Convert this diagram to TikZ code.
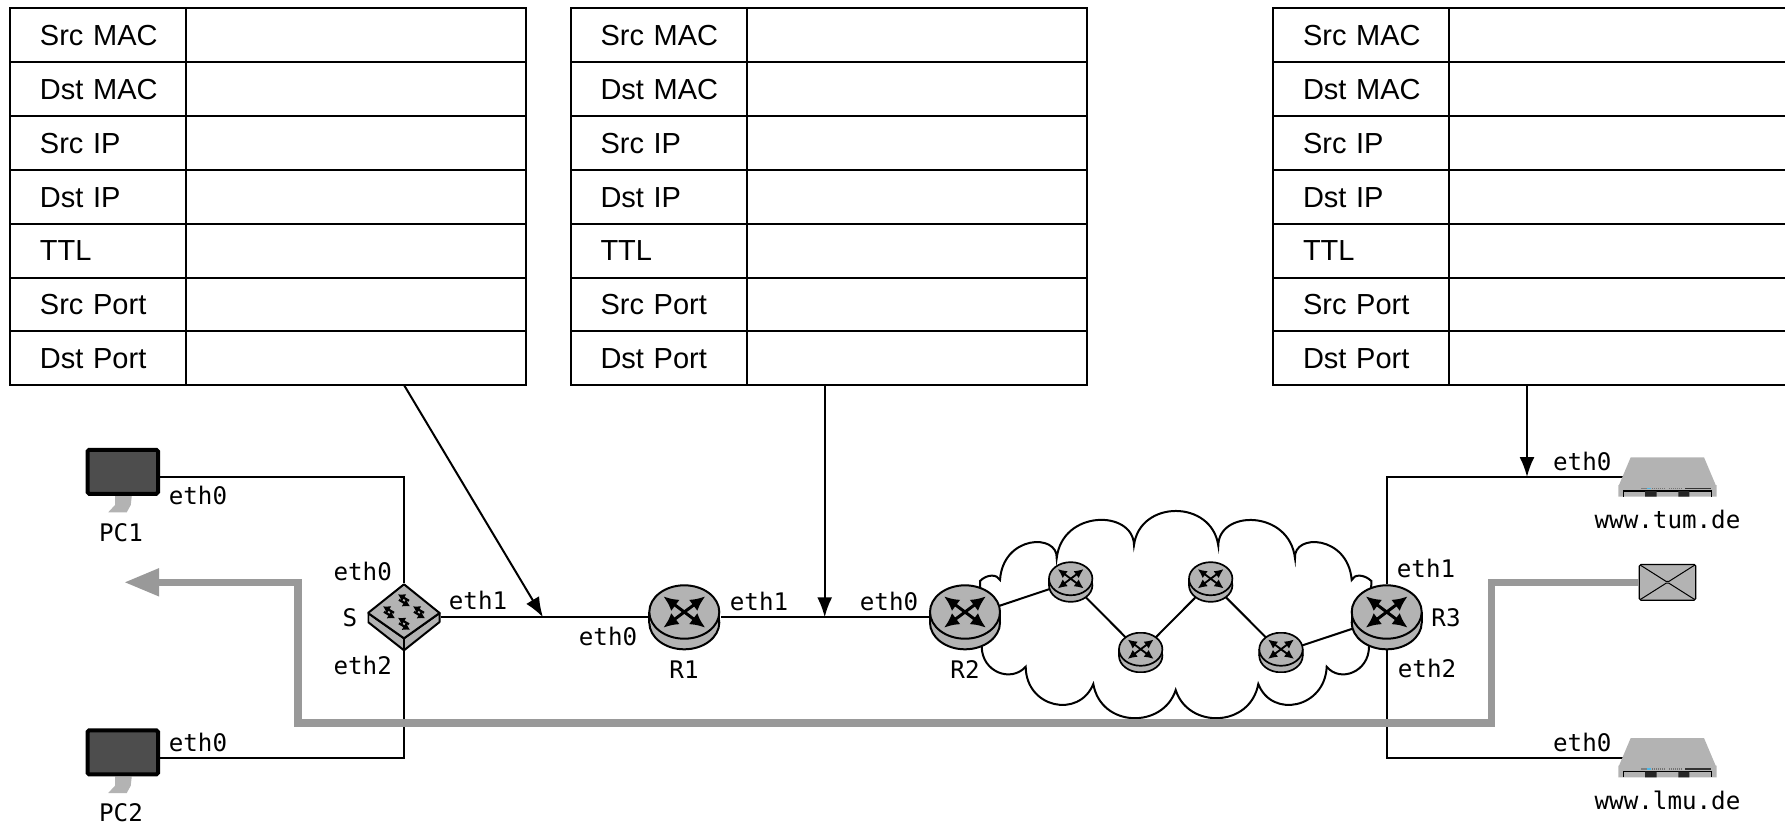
\documentclass[tikz,border=0pt]{standalone}
\usepackage{fontspec}
\setsansfont{Liberation Sans}
\setmonofont{DejaVu Sans Mono}
\usetikzlibrary{arrows.meta,backgrounds,matrix,positioning}

\definecolor{devgray}{HTML}{B3B3B3}
\definecolor{screengray}{HTML}{4D4D4D}
\definecolor{replygray}{HTML}{999999}
\definecolor{ledblue}{HTML}{4DB8E8}

% router icon, #1 = size
\newcommand{\routericon}[1]{
  \begin{scope}[shift={(path picture bounding box.center)}, x=#1*.5pt, y=-#1*.5pt, line width=#1*.4pt+.6pt]
    \draw[fill=devgray] (0,5.3) ellipse (35 and 26.7);
    \fill[devgray] (-35,-5.3) rectangle (35,5.3);
    \draw (-35,-5.3) -- (-35,5.3) (35,-5.3) -- (35,5.3);
    \draw[fill=devgray] (0,-5.3) ellipse (35 and 26.7);
    \foreach \sx/\sy in {-21/-15.7, 21/-15.7, -21/15.7, 21/15.7}
      \draw[line width=#1*1.5pt, -{Latex[length=7.5pt,width=7pt,scale=#1]}] (0,-5.3) -- ++(\sx,\sy);
  \end{scope}
}
% switch icon
\newcommand{\switchicon}{
  \begin{scope}[shift={(path picture bounding box.center)}, line width=1pt]
    \draw[fill=devgray, line join=round] (-36,-4.3) -- (-36,4.7) -- (0,33) -- (35.6,4.7) -- (35.6,-4.3) -- (0,21) -- cycle;
    \draw[fill=devgray, line join=round] (0,-33) -- (35.6,-4.3) -- (0,21) -- (-36,-4.3) -- cycle;
    \draw (0,21) -- (0,33);
    \foreach \cx/\cy in {0/-17, -15/-5, 15/-5, 0/6.5} {
      \draw[line width=1.1pt, -{Latex[length=3.5pt,width=4.5pt]}] (\cx-5,\cy-.5) -- (\cx+6,\cy+6);
      \draw[line width=1.1pt, -{Latex[length=3.5pt,width=4.5pt]}] (\cx+5,\cy+.5) -- (\cx-6,\cy-6);
    }
  \end{scope}
}
% desktop icon
\newcommand{\pcicon}{
  \begin{scope}[shift={(path picture bounding box.center)}]
    \fill[devgray] (-7.75,19) -- (9,19) -- (8,28) -- (4,35.3) -- (-14.5,35.3) -- (-7.75,28) -- cycle;
    \draw[line width=2pt, rounded corners=.8pt, fill=screengray] (-35.25,-27.25) rectangle (35.25,16.75);
  \end{scope}
}
% rack server icon
\newcommand{\servericon}{
  \begin{scope}[shift={(path picture bounding box.center)}]
    \fill[devgray] (-36.3,-19.7) -- (37,-19.7) -- (48.7,8) -- (49.7,8) -- (49.7,19.7) -- (-48.7,19.7) -- (-48.7,8) -- (-48,8) -- cycle;
    \draw[line width=.6pt] (-43.7,19.7) -- (-43.7,14) -- (44.7,14) -- (44.7,19.7);
    \fill[black!85] (-22,14) rectangle (-10.3,19.7) (11.3,14) rectangle (22.3,19.7);
    \draw[line width=.7pt, gray] (-26,11.3) -- (-20.3,11.3);
    \draw[line width=.7pt, ledblue] (-20.3,11.3) -- (-16,11.3);
    \draw[line width=.7pt, black!55, dash pattern=on .5pt off .5pt] (-15,11.3) -- (-2,11.3) (2.3,11.3) -- (14.7,11.3);
    \draw[line width=.7pt, black!80] (18,11.3) -- (44,11.3);
  \end{scope}
}
% the empty packet header table
\newcommand{\headertable}[2]{
  \matrix (#1) [headergrid, ampersand replacement=\&] at (#2,7) {
    Src MAC \& \\
    Dst MAC \& \\
    Src IP \& \\
    Dst IP \& \\
    TTL \& \\
    Src Port \& \\
    Dst Port \& \\
  };
}

\begin{document}
\begin{tikzpicture}[
  x=.5pt, y=-.5pt,
  headergrid/.style={matrix of nodes, nodes in empty cells, anchor=north west, inner sep=0pt, outer sep=0pt, row sep=-1pt, column sep=-1pt,
    nodes={draw, line width=1pt, outer sep=0pt, minimum height=26.95pt, text height=10.4pt, text depth=0pt, font=\sffamily\fontsize{14.5}{17}\selectfont},
    column 1/.style={nodes={text width=73pt, inner xsep=7.5pt, align=left, execute at begin node=\hspace*{7.5pt}}},
    column 2/.style={nodes={minimum width=170pt, inner xsep=0pt}}},
  port/.style={inner sep=0pt, font=\ttfamily\fontsize{12.1}{14}\selectfont},
  device/.style={inner sep=0pt, outer sep=0pt},
  router/.style={device, minimum width=#1*36.5pt, minimum height=#1*33pt, path picture={\routericon{#1}}},
  switchbox/.style={device, minimum width=36.5pt, minimum height=34pt, path picture={\switchicon}},
  pc/.style={device, minimum width=37.5pt, minimum height=36pt, path picture={\pcicon}},
  server/.style={device, minimum width=50pt, minimum height=20pt, path picture={\servericon}},
  mail/.style={device, draw, fill=devgray, line width=.6pt, rounded corners=.8pt, minimum width=28.2pt, minimum height=17.85pt,
    path picture={\draw[line width=.5pt] (path picture bounding box.north west) -- (path picture bounding box.center) -- (path picture bounding box.north east)
      (path picture bounding box.south west) -- (path picture bounding box.center) -- (path picture bounding box.south east);}},
  link/.style={draw, line width=1pt},
  cloudline/.style={draw, line width=1pt},
  pointer/.style={draw, line width=1pt, -{Latex[length=10pt,width=7.5pt]}},
  reply/.style={draw=replygray, line width=3.75pt, -{Triangle[length=17.5pt,width=13pt]}}
]
\useasboundingbox (0,0) rectangle (1785,826);

\headertable{hdrA}{9}
\headertable{hdrB}{569.5}
\headertable{hdrC}{1272}

% devices
\node [pc] (PC1) at (122.75,477) {};
\node [pc] (PC2) at (122.75,757.7) {};
\node [switchbox] (S) at (404,617.3) {};
\node [router=1] (R1) at (684.3,617.3) {};
\node [router=1] (R2) at (965,617.3) {};
\node [router=1] (R3) at (1386.7,617.3) {};
\node [router=.62] (r1) at (1070.7,582) {};
\node [router=.62] (r2) at (1140.7,652.5) {};
\node [router=.62] (r3) at (1210.7,582) {};
\node [router=.62] (r4) at (1281,652.5) {};
\node [server] (tum) at (1667,477) {};
\node [server] (lmu) at (1667,757.7) {};
\node [mail] (env) at (1667.5,582.3) {};

% device names
\node [port] (namePC1) at (121,533) {PC1};
\node [port] (namePC2) at (121,813) {PC2};
\node [port] (nameS) at (350,617.7) {S};
\node [port] (nameR1) at (684,669.3) {R1};
\node [port] (nameR2) at (965,669.3) {R2};
\node [port] (nameR3) at (1446,617.7) {R3};
\node [port] (nametum) at (1667.5,519.3) {www.tum.de};
\node [port] (namelmu) at (1667.5,800.3) {www.lmu.de};

% interfaces
\node [port] (pc1eth0) at (198,495) {eth0};
\node [port] (pc2eth0) at (198,742.7) {eth0};
\node [port] (seth0) at (362.7,571) {eth0};
\node [port] (seth1) at (478,600.7) {eth1};
\node [port] (seth2) at (362.7,665) {eth2};
\node [port] (r1eth0) at (608,636) {eth0};
\node [port] (r1eth1) at (759,601.7) {eth1};
\node [port] (r2eth0) at (889,601.7) {eth0};
\node [port] (r3eth1) at (1426,568.3) {eth1};
\node [port] (r3eth2) at (1427,668.3) {eth2};
\node [port] (tumeth0) at (1582.3,461.7) {eth0};
\node [port] (lmueth0) at (1582.3,742.3) {eth0};

\begin{pgfonlayer}{background}
  % cloud
  \draw [cloudline] (980,581) .. controls (987,574) and (997,574) .. (1000,580)
    .. controls (1003,535) and (1058,533) .. (1056.7,558.3)
    .. controls (1062,509.5) and (1133,509.5) .. (1134,545)
    .. controls (1140,499.5) and (1212,499.5) .. (1218.3,545.7)
    .. controls (1218.4,509.5) and (1289.4,509.5) .. (1295,558.3)
    .. controls (1293,533) and (1348,535) .. (1351.7,580)
    .. controls (1354,574) and (1364,574) .. (1371.4,581)
    -- (1369,646.7)
    .. controls (1369,672) and (1340,683) .. (1326.7,666.7)
    .. controls (1325,708) and (1272,719) .. (1258.3,684)
    .. controls (1250,728) and (1188,729) .. (1175.7,690)
    .. controls (1163,729) and (1101,728) .. (1093.3,684)
    .. controls (1079,719) and (1026,708) .. (1025.7,666.7)
    .. controls (1011,683) and (982,672) .. (981.7,646.7) -- cycle;
  % links
  \draw [link] (PC1) -| (S);
  \draw [link] (PC2) -| (S);
  \draw [link] (S) -- (R1);
  \draw [link] (R1) -- (R2);
  \draw [link] (R2.center) -- (r1.center);
  \draw [link] (r1.center) -- (r2.center);
  \draw [link] (r2.center) -- (r3.center);
  \draw [link] (r3.center) -- (r4.center);
  \draw [link] (r4.center) -- (R3.center);
  \draw [link] (R3) |- (tum.center);
  \draw [link] (R3) |- (lmu.center);
\end{pgfonlayer}

% free ends
\coordinate (hdrAout) at (404,385);
\coordinate (tapA) at (543,617.3);
\coordinate (hdrBout) at (824.7,385);
\coordinate (tapB) at (824.7,617.3);
\coordinate (hdrCout) at (1527,385);
\coordinate (tapC) at (1527,477);
\draw [pointer] (hdrAout) -- (tapA);
\draw [pointer] (hdrBout) -- (tapB);
\draw [pointer] (hdrCout) -- (tapC);

% way back of the packet
\coordinate (turnA) at (1491.7,723);
\coordinate (turnB) at (298,582.3);
\coordinate (away) at (124,582.3);
\draw [reply] (env) -| (turnA) -| (turnB) -- (away);
\end{tikzpicture}
\end{document}
